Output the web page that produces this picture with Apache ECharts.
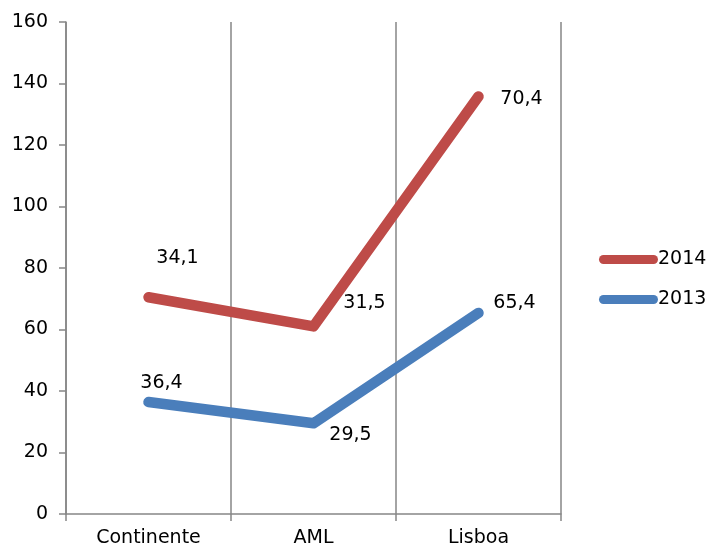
<!DOCTYPE html>
<html><head><meta charset="utf-8">
<script src="https://cdn.jsdelivr.net/npm/echarts@6/dist/echarts.min.js"></script>
<style>html,body{margin:0;padding:0;background:#fff}#c{width:712px;height:549px}</style>
</head><body><div id="c"></div>
<script>
var categories = ['Continente', 'AML', 'Lisboa'];
var values2013 = [36.4, 29.5, 65.4];
var values2014 = [34.1, 31.5, 70.4];
var yTicks = { min: 0, max: 160, interval: 20 };

// label offsets (styling only)
var off2013 = [[13, -19], [37, 12], [36, -10]];
var off2014 = [[29, -39], [51, -23], [43, 3]];

var FONT = 'DejaVu Sans';
var FS = 19;
function fmt(p) { return String(p.value).replace('.', ','); }
function mk(vals, offs) {
  return vals.map(function (v, i) {
    return { value: v, label: { offset: offs[i] } };
  });
}
var chart = echarts.init(document.getElementById('c'), null, { renderer: 'canvas' });
chart.setOption({
  animation: false,
  grid: { left: 66, top: 22, width: 495, height: 492, containLabel: false },
  legend: {
    orient: 'vertical', left: 594, top: 245, itemGap: 21,
    itemWidth: 59, itemHeight: 9,
    icon: 'path://M4.5,0 H54.5 A4.5,4.5 0 0 1 54.5,9 H4.5 A4.5,4.5 0 0 1 4.5,0 Z',
    textStyle: { fontFamily: FONT, fontSize: FS, color: '#000', padding: [0, 0, 0, -5] },
    data: ['2014', '2013']
  },
  xAxis: {
    type: 'category', data: categories, boundaryGap: true,
    axisLine: { lineStyle: { color: '#868686', width: 1.5 } },
    axisTick: { show: true, length: 7, inside: false, lineStyle: { color: '#868686', width: 1.5 } },
    splitLine: { show: true, lineStyle: { color: '#868686', width: 1.5 } },
    axisLabel: { fontFamily: FONT, fontSize: FS, color: '#000', margin: 15 }
  },
  yAxis: {
    type: 'value', min: yTicks.min, max: yTicks.max, interval: yTicks.interval,
    axisLine: { show: true, lineStyle: { color: '#868686', width: 1.5 } },
    axisTick: { show: true, length: 7, lineStyle: { color: '#868686', width: 1.5 } },
    splitLine: { show: false },
    axisLabel: { fontFamily: FONT, fontSize: FS, color: '#000', margin: 18 }
  },
  series: [
    {
      name: '2013', type: 'line', stack: 'total', data: mk(values2013, off2013),
      symbol: 'circle', symbolSize: 1, showSymbol: true,
      lineStyle: { color: '#4A7EBB', width: 10.5, cap: 'round', join: 'round' },
      itemStyle: { color: '#4A7EBB' },
      label: { show: true, position: 'inside', formatter: fmt, fontFamily: FONT, fontSize: FS, color: '#000' }
    },
    {
      name: '2014', type: 'line', stack: 'total', data: mk(values2014, off2014),
      symbol: 'circle', symbolSize: 1, showSymbol: true,
      lineStyle: { color: '#BE4B48', width: 10.5, cap: 'round', join: 'round' },
      itemStyle: { color: '#BE4B48' },
      label: { show: true, position: 'inside', formatter: fmt, fontFamily: FONT, fontSize: FS, color: '#000' }
    }
  ]
});
</script></body></html>
